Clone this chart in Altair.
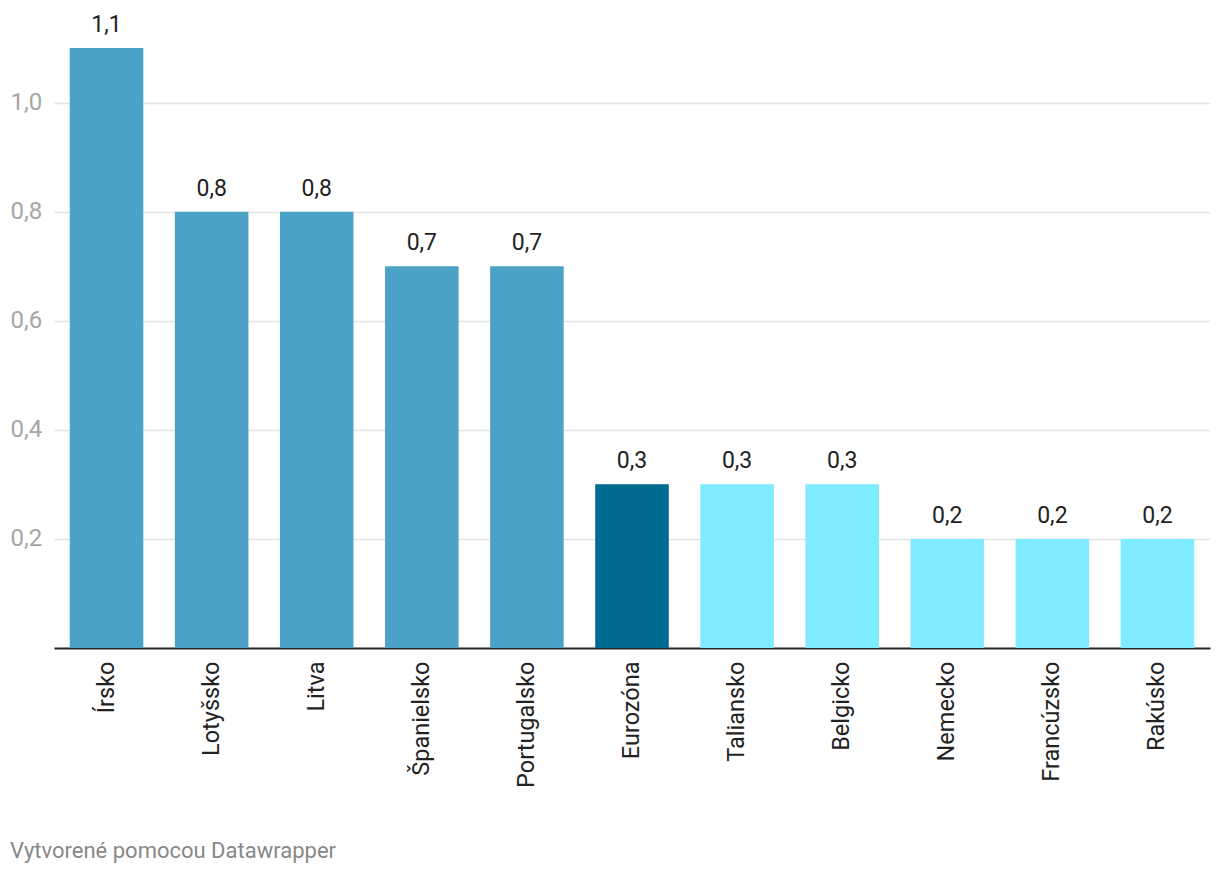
import altair as alt
import pandas as pd

countries = ["Írsko", "Lotyšsko", "Litva", "Španielsko", "Portugalsko", "Eurozóna",
             "Taliansko", "Belgicko", "Nemecko", "Francúzsko", "Rakúsko"]
values = [1.1, 0.8, 0.8, 0.7, 0.7, 0.3, 0.3, 0.3, 0.2, 0.2, 0.2]
colors = ["#4ba2c6", "#4ba2c6", "#4ba2c6", "#4ba2c6", "#4ba2c6", "#006a91",
          "#7febfe", "#7febfe", "#7febfe", "#7febfe", "#7febfe"]
y_ticks = [0.2, 0.4, 0.6, 0.8, 1.0]
footer = "Vytvorené pomocou Datawrapper"

df = pd.DataFrame({"country": countries, "value": values, "color": colors})

FONT = "Roboto"

x_enc = alt.X(
    "country:N",
    sort=countries,
    title=None,
    scale=alt.Scale(paddingInner=0.3, paddingOuter=0.15),
    axis=alt.Axis(
        labelAngle=-90,
        labelAlign="right",
        labelBaseline="middle",
        labelPadding=13,
        labelFontSize=23.5,
        labelColor="#222222",
        labelFont=FONT,
        ticks=False,
        tickSize=0,
        domainColor="#222222",
        domainWidth=2,
        grid=False,
    ),
)
y_enc = alt.Y(
    "value:Q",
    title=None,
    scale=alt.Scale(domain=[0, 1.1], nice=False, zero=True),
    axis=alt.Axis(
        values=y_ticks,
        labelExpr="replace(format(datum.value, '.1f'), '.', ',')",
        labelAlign="left",
        labelBaseline="middle",
        labelPadding=44,
        labelFontSize=24,
        labelColor="#a6a6a6",
        labelFont=FONT,
        ticks=False,
        tickSize=0,
        domain=False,
        grid=True,
        gridColor="#e4e4e4",
        gridWidth=1.5,
    ),
)

base = alt.Chart(df)

bars = base.mark_bar().encode(
    x=x_enc,
    y=y_enc,
    color=alt.Color("color:N", scale=None),
)

labels = base.transform_calculate(
    lbl="replace(format(datum.value, '.1f'), '.', ',')"
).mark_text(
    baseline="alphabetic", dy=-16, fontSize=23, font=FONT, color="#222222"
).encode(
    x=alt.X("country:N", sort=countries),
    y="value:Q",
    text="lbl:N",
)

foot = alt.Chart(pd.DataFrame({"t": [footer]})).mark_text(
    align="left", baseline="middle", fontSize=22, font=FONT, color="#888888"
).encode(
    x=alt.value(-44),
    y=alt.value(803),
    text="t:N",
)

chart = alt.layer(bars, labels, foot).properties(
    width=1156,
    height=600,
    padding={"left": 46, "top": 40, "right": 2, "bottom": 224},
    autosize=alt.AutoSizeParams(type="none"),
).configure(font=FONT).configure_view(stroke=None, strokeWidth=0)

chart.save("out.html", embed_options={"renderer": "svg", "actions": False})
